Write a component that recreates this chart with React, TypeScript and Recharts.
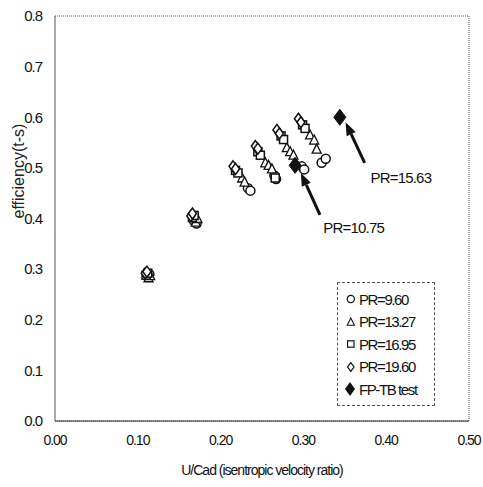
import React from 'react'
import {
    ScatterChart,
    Scatter,
    XAxis,
    YAxis,
    ReferenceArea,
    ReferenceLine,
    ReferenceDot,
} from 'recharts'

document.body.style.margin = '0'

// U/Cad vs efficiency
const pr960 = [
    { u: 0.112, eff: 0.285 }, { u: 0.114, eff: 0.29 },
    { u: 0.168, eff: 0.395 }, { u: 0.171, eff: 0.39 },
    { u: 0.233, eff: 0.46 }, { u: 0.236, eff: 0.455 },
    { u: 0.265, eff: 0.485 }, { u: 0.267, eff: 0.478 },
    { u: 0.298, eff: 0.503 }, { u: 0.301, eff: 0.497 },
    { u: 0.322, eff: 0.51 }, { u: 0.327, eff: 0.518 },
]
const pr1327 = [
    { u: 0.113, eff: 0.283 }, { u: 0.115, eff: 0.287 },
    { u: 0.17, eff: 0.393 }, { u: 0.172, eff: 0.4 },
    { u: 0.226, eff: 0.48 }, { u: 0.229, eff: 0.472 },
    { u: 0.254, eff: 0.51 }, { u: 0.258, eff: 0.505 }, { u: 0.262, eff: 0.498 },
    { u: 0.28, eff: 0.54 }, { u: 0.284, eff: 0.532 }, { u: 0.288, eff: 0.525 },
    { u: 0.308, eff: 0.565 }, { u: 0.313, eff: 0.555 }, { u: 0.316, eff: 0.537 },
]
const pr1695 = [
    { u: 0.11, eff: 0.288 }, { u: 0.112, eff: 0.292 },
    { u: 0.166, eff: 0.402 }, { u: 0.168, eff: 0.406 },
    { u: 0.218, eff: 0.495 }, { u: 0.221, eff: 0.49 },
    { u: 0.245, eff: 0.532 }, { u: 0.248, eff: 0.525 }, { u: 0.266, eff: 0.48 },
    { u: 0.273, eff: 0.563 }, { u: 0.276, eff: 0.556 },
    { u: 0.299, eff: 0.585 }, { u: 0.302, eff: 0.578 },
]
const pr1960 = [
    { u: 0.109, eff: 0.292 }, { u: 0.111, eff: 0.295 },
    { u: 0.164, eff: 0.405 }, { u: 0.166, eff: 0.41 },
    { u: 0.215, eff: 0.503 }, { u: 0.218, eff: 0.498 },
    { u: 0.242, eff: 0.543 }, { u: 0.245, eff: 0.538 },
    { u: 0.268, eff: 0.575 }, { u: 0.271, eff: 0.568 },
    { u: 0.294, eff: 0.597 }, { u: 0.297, eff: 0.59 },
]
const fpTest = [
    { u: 0.29, eff: 0.505 },
    { u: 0.344, eff: 0.6 },
]

const xTicks = [0, 0.1, 0.2, 0.3, 0.4, 0.5]
const yTicks = [0, 0.1, 0.2, 0.3, 0.4, 0.5, 0.6, 0.7, 0.8]

const legendItems = ['PR=9.60', 'PR=13.27', 'PR=16.95', 'PR=19.60', 'FP-TB test']

// arrows: tail -> tip, plus the label next to each one
const arrows = [
    { from: { x: 0.32, y: 0.407 }, to: { x: 0.297, y: 0.49 } },
    { from: { x: 0.374, y: 0.51 }, to: { x: 0.351, y: 0.59 } },
]
const notes = [
    { x: 0.324, y: 0.381, text: 'PR=10.75' },
    { x: 0.381, y: 0.48, text: 'PR=15.63' },
]

const font = "'Liberation Sans', Arial, sans-serif"
const ink = '#111'

const Circle = (p: any) => <circle cx={p.cx} cy={p.cy} r={4.5} fill="#fff" stroke={ink} strokeWidth={1.5} />
const Tri = (p: any) => (
    <polygon
        points={`${p.cx},${p.cy - 5} ${p.cx - 4.5},${p.cy + 4} ${p.cx + 4.5},${p.cy + 4}`}
        fill="#fff" stroke={ink} strokeWidth={1.3}
    />
)
const Square = (p: any) => <rect x={p.cx - 4} y={p.cy - 4} width={8} height={8} fill="#fff" stroke={ink} strokeWidth={1.5} />
const Diamond = (p: any) => (
    <polygon
        points={`${p.cx},${p.cy - 5.5} ${p.cx + 4},${p.cy} ${p.cx},${p.cy + 5.5} ${p.cx - 4},${p.cy}`}
        fill="#fff" stroke={ink} strokeWidth={1.5}
    />
)
const BigDiamond = (p: any) => (
    <polygon
        points={`${p.cx},${p.cy - 8} ${p.cx + 6},${p.cy} ${p.cx},${p.cy + 8} ${p.cx - 6},${p.cy}`}
        fill={ink} stroke={ink}
    />
)

const markers = [Circle, Tri, Square, Diamond, BigDiamond]

const Arrow = (p: any) => {
    const { x1, y1, x2, y2 } = p
    const a = Math.atan2(y2 - y1, x2 - x1)
    const len = 13
    const w = 5
    const bx = x2 - len * Math.cos(a)
    const by = y2 - len * Math.sin(a)
    const px = -Math.sin(a) * w
    const py = Math.cos(a) * w
    return (
        <g>
            <line x1={x1} y1={y1} x2={bx} y2={by} stroke={ink} strokeWidth={3} />
            <polygon points={`${x2},${y2} ${bx + px},${by + py} ${bx - px},${by - py}`} fill={ink} />
        </g>
    )
}

const LegendBox = () => (
    <div
        style={{
            position: 'absolute',
            left: 337,
            top: 282,
            width: 98,
            height: 124,
            border: '1px dashed #555',
            boxSizing: 'border-box',
            padding: '5px 0 0 6px',
            background: '#fff',
        }}
    >
        {legendItems.map((name, i) => {
            const M = markers[i]
            return (
                <div key={name} style={{ display: 'flex', alignItems: 'center', height: 22.5 }}>
                    <svg width={14} height={16}>
                        {i === 4 ? (
                            <polygon points="6,1 11,8 6,15 1,8" fill={ink} />
                        ) : (
                            <g transform="scale(0.8) translate(1.5,2)">
                                <M cx={7} cy={8} />
                            </g>
                        )}
                    </svg>
                    <span
                        style={{
                            fontFamily: font,
                            fontSize: 15,
                            letterSpacing: -1.4,
                            color: ink,
                            marginLeft: 1,
                            whiteSpace: 'nowrap',
                        }}
                    >
                        {name}
                    </span>
                </div>
            )
        })}
    </div>
)

export default function App() {
    return (
        <div style={{ position: 'relative', width: 483, height: 487 }}>
            <ScatterChart width={483} height={487} margin={{ top: 16, right: 14, left: 0, bottom: 0 }}>
                <XAxis
                    type="number"
                    dataKey="u"
                    domain={[0, 0.5]}
                    ticks={xTicks}
                    tickFormatter={(v: number) => v.toFixed(2)}
                    tickLine={false}
                    tickMargin={8}
                    height={66}
                    axisLine={{ stroke: '#333' }}
                    tick={{ fill: ink, fontSize: 14, fontFamily: font, letterSpacing: -1 }}
                    label={{
                        value: 'U/Cad (isentropic velocity ratio)',
                        position: 'insideBottom',
                        offset: 12,
                        fill: ink,
                        fontSize: 14,
                        fontFamily: font,
                        letterSpacing: -1,
                    }}
                />
                <YAxis
                    type="number"
                    dataKey="eff"
                    domain={[0, 0.8]}
                    ticks={yTicks}
                    tickFormatter={(v: number) => v.toFixed(1)}
                    tickLine={false}
                    tickMargin={7}
                    width={55}
                    axisLine={{ stroke: '#555', strokeDasharray: '1 1' }}
                    tick={{ fill: ink, fontSize: 15, fontFamily: font, letterSpacing: -1 }}
                    label={{
                        value: 'efficiency(t-s)',
                        angle: -90,
                        position: 'insideLeft',
                        offset: 18,
                        fill: '#222',
                        fontSize: 16,
                        fontFamily: font,
                    }}
                />
                <ReferenceArea x1={0} x2={0.5} y1={0} y2={0.8} fill="none" stroke="#555" strokeDasharray="1 1" />
                <Scatter name="PR=9.60" data={pr960} shape={Circle} isAnimationActive={false} />
                <Scatter name="PR=13.27" data={pr1327} shape={Tri} isAnimationActive={false} />
                <Scatter name="PR=16.95" data={pr1695} shape={Square} isAnimationActive={false} />
                <Scatter name="PR=19.60" data={pr1960} shape={Diamond} isAnimationActive={false} />
                <Scatter name="FP-TB test" data={fpTest} shape={BigDiamond} isAnimationActive={false} />
                {arrows.map((a, i) => (
                    <ReferenceLine key={i} segment={[a.from, a.to]} shape={Arrow} ifOverflow="visible" />
                ))}
                {notes.map((n) => (
                    <ReferenceDot
                        key={n.text}
                        x={n.x}
                        y={n.y}
                        ifOverflow="visible"
                        shape={(p: any) => (
                            <text
                                x={p.cx}
                                y={p.cy}
                                dy={5}
                                fill={ink}
                                fontSize={15}
                                fontFamily={font}
                                letterSpacing={-0.8}
                            >
                                {n.text}
                            </text>
                        )}
                    />
                ))}
            </ScatterChart>
            <LegendBox />
        </div>
    )
}
